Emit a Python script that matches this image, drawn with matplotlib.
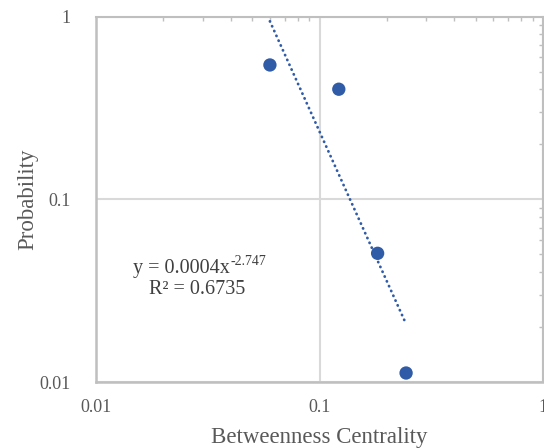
import numpy as np
import matplotlib
matplotlib.use("Agg")
import matplotlib.pyplot as plt
from matplotlib.ticker import LogLocator, FixedLocator, NullFormatter

# values
betweenness = [0.060, 0.122, 0.182, 0.244]
probability = [0.543, 0.400, 0.0506, 0.0112]
x_ticks = [0.01, 0.1, 1]
x_labels = ["0.01", "0.1", "1"]
y_ticks = [0.01, 0.1, 1]
y_labels = ["0.01", "0.1", "1"]
eq_main = "y = 0.0004x"
eq_sup = "-2.747"
r2_text = "R\u00b2 = 0.6735"

plt.rcParams['font.family'] = ['Liberation Serif', 'DejaVu Serif']

blue = '#2F5BA7'
grey_txt = '#595959'
spine_col = '#BFBFBF'

fig = plt.figure(figsize=(5.44, 4.48), dpi=100)
ax = fig.add_axes([96/544, 1-382/448, 447/544, (382-16.5)/448])
ax.set_xscale('log')
ax.set_yscale('log')
ax.set_xlim(0.01, 1)
ax.set_ylim(0.01, 1)

# power trendline fitted in log space over the data range
lx = np.log10(betweenness)
ly = np.log10(probability)
slope, icpt = np.polyfit(lx, ly, 1)
xs = np.array([min(betweenness), max(betweenness)])
ax.plot(xs, 10**icpt * xs**slope, linestyle=(0, (0.1, 1.8)), color=blue, lw=2.0,
        dash_capstyle='round', zorder=2)

ax.scatter(betweenness, probability, s=92, color=blue, edgecolors='none', zorder=3)

ax.xaxis.set_major_locator(FixedLocator(x_ticks))
ax.yaxis.set_major_locator(FixedLocator(y_ticks))
ax.set_xticklabels(x_labels)
ax.set_yticklabels(y_labels)
ax.xaxis.set_minor_locator(LogLocator(base=10, subs=np.arange(2, 10)))
ax.yaxis.set_minor_locator(LogLocator(base=10, subs=np.arange(2, 10)))
ax.xaxis.set_minor_formatter(NullFormatter())
ax.yaxis.set_minor_formatter(NullFormatter())
ax.grid(True, which='major', color='#D9D9D9', lw=1.5, zorder=0)

ax.tick_params(which='major', length=0, labelsize=13, labelcolor=grey_txt)
ax.tick_params(axis='x', which='major', pad=12)
ax.tick_params(axis='y', which='major', pad=18)
# minor ticks only on top and right, pointing inward
ax.tick_params(which='minor', direction='in', length=3, width=1, color=spine_col,
               bottom=False, left=False, top=True, right=True)

for side in ['left', 'bottom']:
    ax.spines[side].set_color(spine_col)
    ax.spines[side].set_linewidth(1.8)
for side in ['top', 'right']:
    ax.spines[side].set_color(spine_col)
    ax.spines[side].set_linewidth(1.5)

ax.set_xlabel("Betweenness Centrality", fontsize=16.5, color=grey_txt, labelpad=8)
ax.set_ylabel("Probability", fontsize=16.5, color=grey_txt, labelpad=1)

t1 = ax.text(0.30, 0.298, eq_main, transform=ax.transAxes,
             ha='right', va='baseline', fontsize=14.5, color='#404040')
ax.annotate(eq_sup, xy=(1, 0.55), xycoords=t1, ha='left', va='bottom',
            fontsize=10, color='#404040')
ax.text(0.226, 0.241, r2_text, transform=ax.transAxes,
        ha='center', va='baseline', fontsize=14.5, color='#404040')

fig.savefig("out.png", dpi=100)
